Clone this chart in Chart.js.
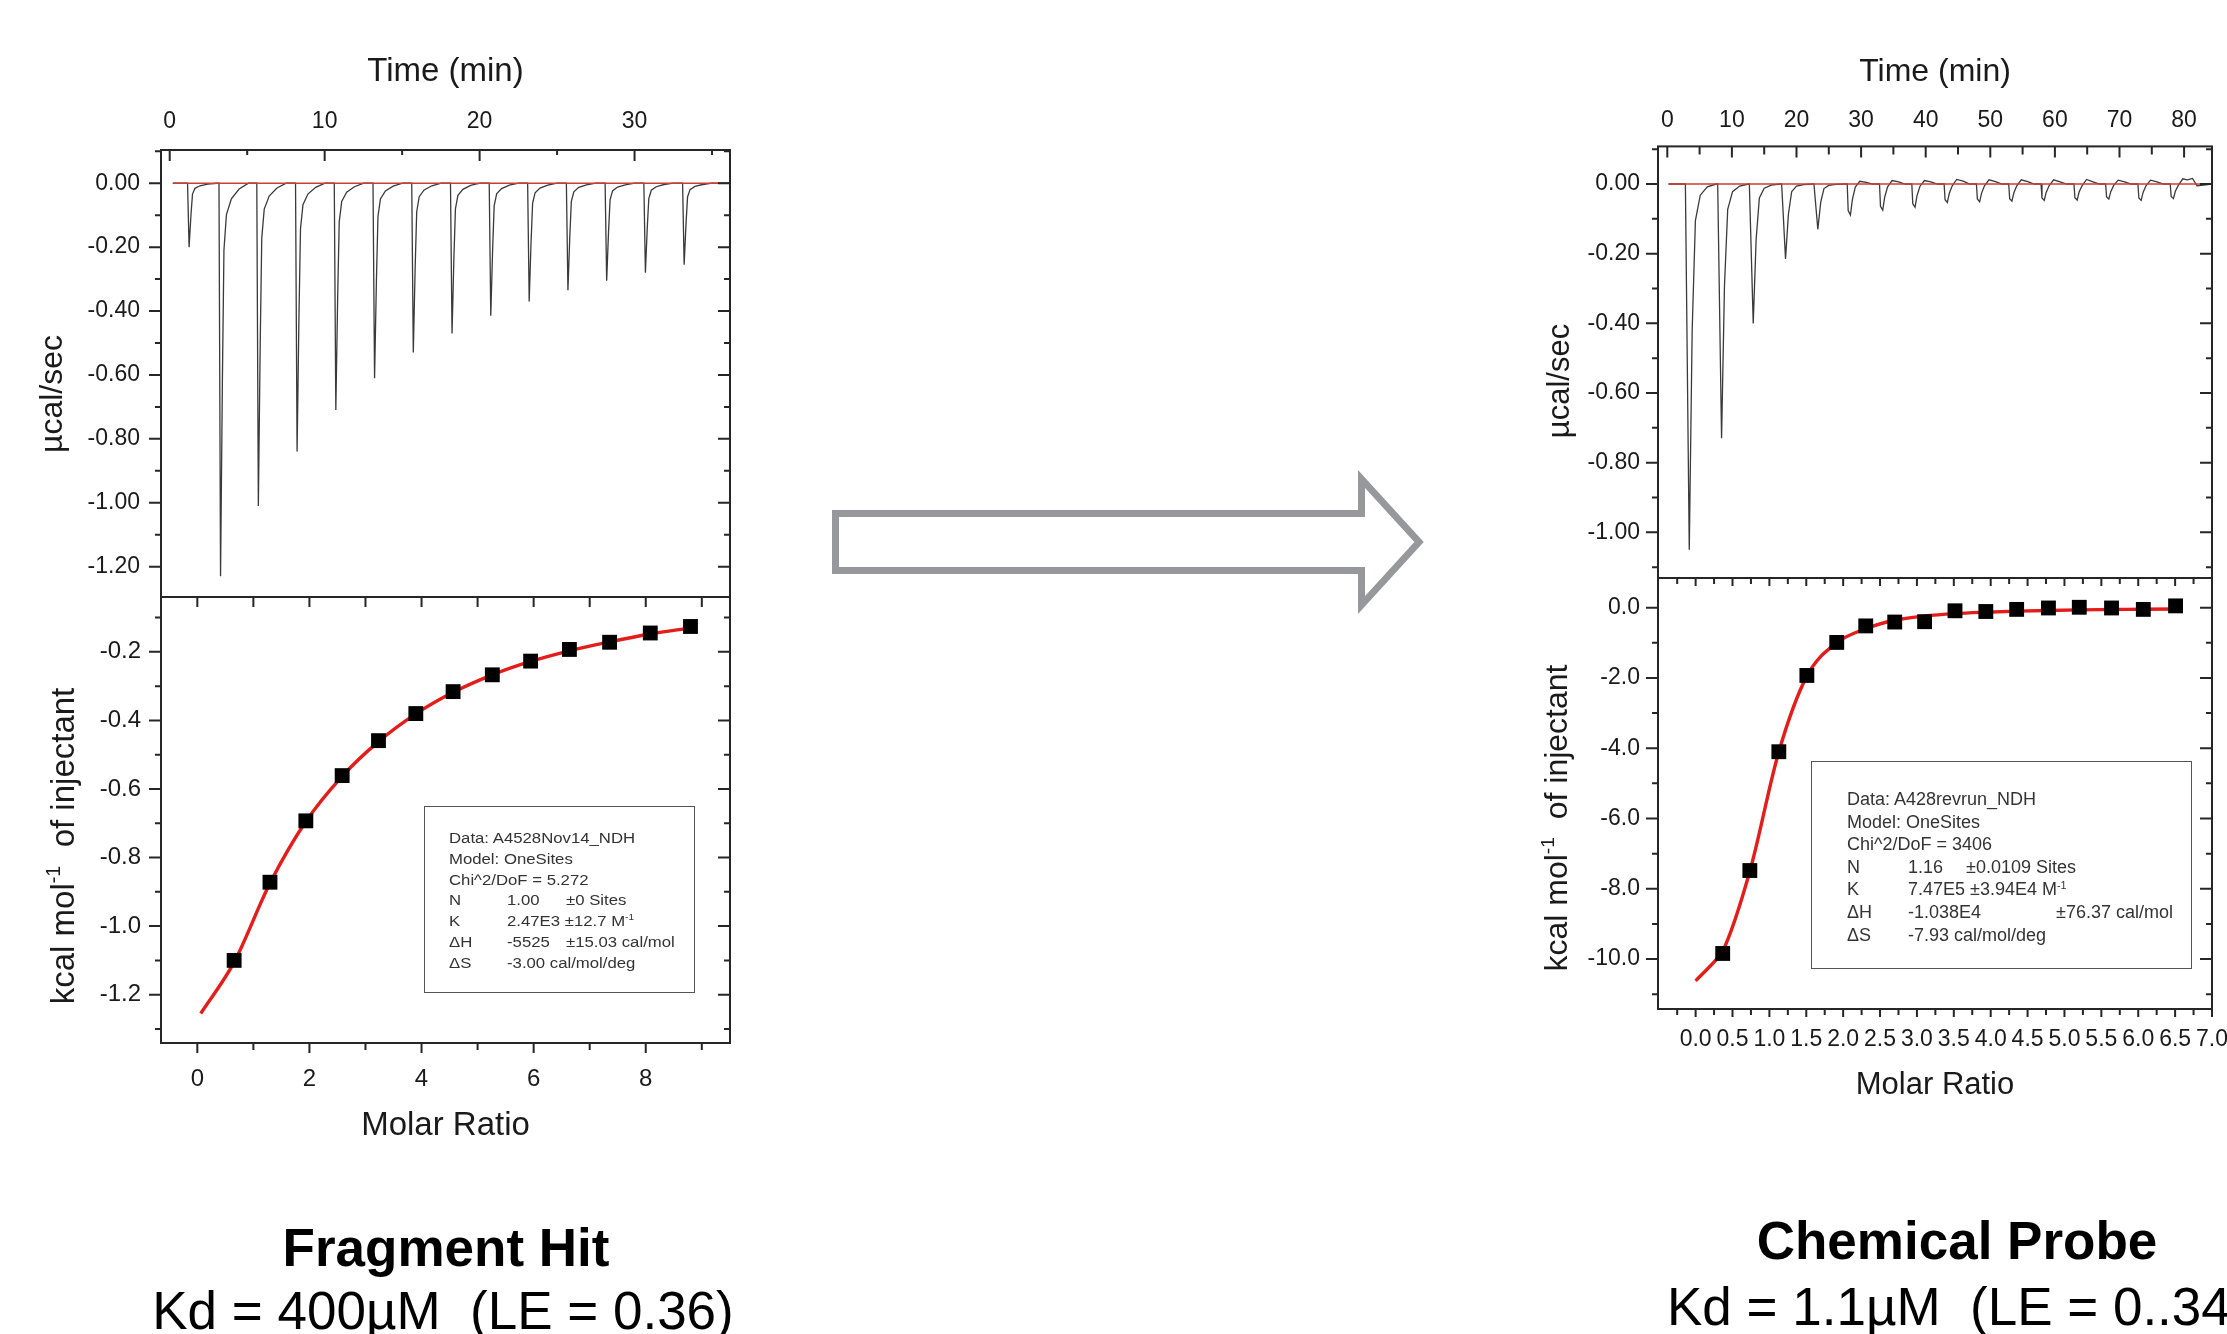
<!DOCTYPE html>
<html>
<head>
<meta charset="utf-8">
<script src="https://cdn.jsdelivr.net/npm/chart.js@4.4.1/dist/chart.umd.min.js"></script>
<style>
  html, body { margin:0; padding:0; background:#fff; }
  body { width:2227px; height:1334px; overflow:hidden; position:relative; font-family:'Liberation Sans', Arial, sans-serif; }
  canvas { position:absolute; left:0; top:0; }
  .ytitle { position:absolute; transform:translate(-50%,-50%) rotate(-90deg); white-space:nowrap; line-height:1; color:#1a1a1a; }
  .ytitle sup { font-size:0.6em; vertical-align:0.7em; line-height:0; }
  .box { position:absolute; border:1.5px solid #555; box-sizing:border-box; }
  .lg { position:absolute; white-space:pre; color:#333; }
  .lgL { font-size:15.5px; line-height:18px; transform:scaleX(1.08); transform-origin:0 50%; }
  .lgR { font-size:18px; line-height:20px; }
  .lg sup { font-size:0.6em; vertical-align:0.6em; line-height:0; }
  .bt { position:absolute; font-size:53px; line-height:53px; white-space:pre; color:#000; }
</style>
</head>
<body>
<canvas id="cLT" width="2300" height="1334"></canvas>
<canvas id="cLB" width="2300" height="1334"></canvas>
<canvas id="cRT" width="2300" height="1334"></canvas>
<canvas id="cRB" width="2300" height="1334"></canvas>

<svg width="2227" height="1334" style="position:absolute;left:0;top:0">
  <polygon points="835.5,513.5 1361.5,513.5 1361.5,479 1419,542 1361.5,605 1361.5,570.5 835.5,570.5"
           fill="#fff" stroke="#97989c" stroke-width="7" stroke-linejoin="miter"/>
</svg>

<div class="ytitle" style="left:51px;top:394px;font-size:32px">µcal/sec</div>
<div class="ytitle" style="left:62px;top:846px;font-size:33px">kcal mol<sup>-1</sup>&nbsp; of injectant</div>
<div class="ytitle" style="left:1558px;top:381px;font-size:31px">µcal/sec</div>
<div class="ytitle" style="left:1556px;top:818px;font-size:32px">kcal mol<sup>-1</sup>&nbsp; of injectant</div>

<div class="box" style="left:424px;top:806px;width:271px;height:187px"></div>
<div class="box" style="left:1811px;top:761px;width:381px;height:208px"></div>
<div id="legends"></div>

<div class="bt" style="left:446px;top:1221px;transform:translateX(-50%);font-weight:bold">Fragment Hit</div>
<div class="bt" style="left:443px;top:1284px;transform:translateX(-50%)">Kd = 400µM  (LE = 0.36)</div>
<div class="bt" style="left:1957px;top:1214px;transform:translateX(-50%);font-weight:bold">Chemical Probe</div>
<div class="bt" style="left:1667px;top:1280px">Kd = 1.1µM  (LE = 0..34)</div>

<script>
// ---------------- DATA ----------------
// Fragment hit thermogram (time in min, power in µcal/sec)
const timeL = [0.2,
 1.15,1.25,1.37,1.47,1.63,1.95,2.45,3.05,
 3.18,3.28,3.40,3.50,3.66,3.98,4.48,5.08,
 5.62,5.72,5.84,5.94,6.10,6.42,6.92,7.52,
 8.12,8.22,8.34,8.44,8.60,8.92,9.42,10.02,
 10.62,10.72,10.84,10.94,11.10,11.42,11.92,12.52,
 13.12,13.22,13.34,13.44,13.60,13.92,14.42,15.02,
 15.62,15.72,15.84,15.94,16.10,16.42,16.92,17.52,
 18.12,18.22,18.34,18.44,18.60,18.92,19.42,20.02,
 20.62,20.72,20.84,20.94,21.10,21.42,21.92,22.52,
 23.10,23.20,23.32,23.42,23.58,23.90,24.40,25.00,
 25.60,25.70,25.82,25.92,26.08,26.40,26.90,27.50,
 28.10,28.20,28.32,28.42,28.58,28.90,29.40,30.00,
 30.60,30.70,30.82,30.92,31.08,31.40,31.90,32.50,
 33.10,33.20,33.32,33.42,33.58,33.90,34.40,35.00,
 36.1];
const powerL = [0,
 0,-0.20,-0.10,-0.034,-0.016,-0.008,-0.003,0,
 0,-1.23,-0.615,-0.209,-0.098,-0.049,-0.018,0,
 0,-1.01,-0.505,-0.172,-0.081,-0.040,-0.015,0,
 0,-0.84,-0.42,-0.143,-0.067,-0.034,-0.013,0,
 0,-0.71,-0.355,-0.121,-0.057,-0.028,-0.011,0,
 0,-0.61,-0.305,-0.104,-0.049,-0.024,-0.009,0,
 0,-0.53,-0.265,-0.090,-0.042,-0.021,-0.008,0,
 0,-0.47,-0.235,-0.080,-0.038,-0.019,-0.007,0,
 0,-0.415,-0.208,-0.071,-0.033,-0.017,-0.006,0,
 0,-0.37,-0.185,-0.063,-0.030,-0.015,-0.006,0,
 0,-0.335,-0.168,-0.057,-0.027,-0.013,-0.005,0,
 0,-0.305,-0.153,-0.052,-0.024,-0.012,-0.005,0,
 0,-0.28,-0.14,-0.048,-0.022,-0.011,-0.004,0,
 0,-0.255,-0.128,-0.043,-0.020,-0.010,-0.004,0,
 0];
const baseTimeL = [0.2, 36.1];
const baseL = [0, 0];

// Fragment hit isotherm (molar ratio, kcal/mol of injectant)
const ratioL = [0.657,1.296,1.936,2.584,3.232,3.898,4.563,5.263,5.946,6.638,7.355,8.081,8.798];
const heatL  = [-1.100,-0.872,-0.693,-0.561,-0.459,-0.380,-0.316,-0.267,-0.227,-0.193,-0.172,-0.145,-0.126];
const fitRatioL = [0.06,0.657,1.296,1.936,2.584,3.232,3.898,4.563,5.263,5.946,6.638,7.355,8.081,8.798];
const fitHeatL  = [-1.255,-1.105,-0.875,-0.695,-0.563,-0.462,-0.381,-0.318,-0.267,-0.228,-0.197,-0.171,-0.148,-0.130];

// Chemical probe thermogram
const timeR = [0.2,
 2.8,3.4,3.85,4.35,5.1,6.2,7.6,
 7.8,8.4,8.85,9.35,10.1,11.2,12.6,
 12.7,13.3,13.75,14.25,15.0,16.1,17.5,
 17.7,18.3,18.75,19.25,20.0,21.1,22.5,
 22.7,23.3,23.75,24.25,25.0,26.1,27.5,
 27.85,28.0,28.35,28.65,29.1,29.8,30.8,31.8,
 32.85,33.0,33.35,33.65,34.1,34.8,35.8,36.8,
 37.85,38.0,38.35,38.65,39.1,39.8,40.8,41.8,
 42.85,43.0,43.35,43.65,44.1,44.8,45.8,46.8,
 47.85,48.0,48.35,48.65,49.1,49.8,50.8,51.8,
 52.85,53.0,53.35,53.65,54.1,54.8,55.8,56.8,
 57.85,58.0,58.35,58.65,59.1,59.8,60.8,61.8,
 62.95,63.1,63.45,63.75,64.2,64.9,65.9,66.9,
 67.85,68.0,68.35,68.65,69.1,69.8,70.8,71.8,
 72.85,73.0,73.35,73.65,74.1,74.8,75.8,76.8,
 77.85,78.0,78.35,78.65,79.1,79.8,80.5,81.3,82.0,83.0,84.3];
const powerR = [0,
 0,-1.05,-0.42,-0.105,-0.032,-0.008,0,
 0,-0.73,-0.292,-0.073,-0.022,-0.006,0,
 0,-0.40,-0.16,-0.04,-0.012,-0.003,0,
 0,-0.215,-0.086,-0.022,-0.006,-0.002,0,
 0,-0.13,-0.052,-0.013,-0.004,-0.001,0,
 0,-0.076,-0.089,-0.045,-0.009,0.008,0.005,0,
 0,-0.064,-0.075,-0.038,-0.008,0.010,0.006,0,
 0,-0.057,-0.067,-0.034,-0.007,0.010,0.006,0,
 0,-0.045,-0.053,-0.027,-0.005,0.013,0.008,0,
 0,-0.043,-0.051,-0.026,-0.005,0.012,0.007,0,
 0,-0.042,-0.049,-0.025,-0.005,0.012,0.007,0,
 0,-0.040,-0.047,-0.024,-0.005,0.012,0.006,0,
 0,-0.039,-0.046,-0.023,-0.005,0.013,0.006,0,
 0,-0.037,-0.043,-0.022,-0.004,0.011,0.006,0,
 0,-0.040,-0.047,-0.024,-0.005,0.011,0.006,0,
 0,-0.036,-0.042,-0.021,-0.004,0.015,0.012,0.016,-0.005,-0.003,0];
const baseTimeR = [0.2, 84.3];
const baseR = [0, 0];

// Chemical probe isotherm
const ratioR = [0.367,0.735,1.128,1.508,1.913,2.306,2.699,3.104,3.516,3.934,4.352,4.783,5.201,5.638,6.069,6.506];
const heatR  = [-9.84,-7.48,-4.10,-1.93,-0.99,-0.52,-0.41,-0.40,-0.09,-0.11,-0.05,-0.01,0.01,-0.01,-0.05,0.05];
const fitRatioR = [0.0,0.285,0.367,0.735,1.128,1.508,1.913,2.306,2.699,3.104,3.516,3.934,4.352,4.783,5.201,5.638,6.069,6.506];
const fitHeatR  = [-10.62,-10.0,-9.78,-7.5,-4.1,-1.95,-1.0,-0.6,-0.36,-0.24,-0.17,-0.13,-0.10,-0.08,-0.065,-0.055,-0.045,-0.04];

// Tick values and labels
const ltTimeTicks  = [0,5,10,15,20,25,30,35];
const ltTimeLabels = ['0','','10','','20','','30',''];
const ltPowerTicks  = [0.1,0,-0.1,-0.2,-0.3,-0.4,-0.5,-0.6,-0.7,-0.8,-0.9,-1.0,-1.1,-1.2];
const ltPowerLabels = ['','0.00','','-0.20','','-0.40','','-0.60','','-0.80','','-1.00','','-1.20'];
const lbRatioTicks  = [0,1,2,3,4,5,6,7,8,9];
const lbRatioLabels = ['0','','2','','4','','6','','8',''];
const lbHeatTicks  = [-0.1,-0.2,-0.3,-0.4,-0.5,-0.6,-0.7,-0.8,-0.9,-1.0,-1.1,-1.2,-1.3];
const lbHeatLabels = ['','-0.2','','-0.4','','-0.6','','-0.8','','-1.0','','-1.2',''];
const rtTimeTicks  = [0,5,10,15,20,25,30,35,40,45,50,55,60,65,70,75,80];
const rtTimeLabels = ['0','','10','','20','','30','','40','','50','','60','','70','','80'];
const rtPowerTicks  = [0.1,0,-0.1,-0.2,-0.3,-0.4,-0.5,-0.6,-0.7,-0.8,-0.9,-1.0,-1.1];
const rtPowerLabels = ['','0.00','','-0.20','','-0.40','','-0.60','','-0.80','','-1.00',''];
const rbRatioTicks  = [-0.25,0,0.25,0.5,0.75,1,1.25,1.5,1.75,2,2.25,2.5,2.75,3,3.25,3.5,3.75,4,4.25,4.5,4.75,5,5.25,5.5,5.75,6,6.25,6.5,6.75,7];
const rbRatioLabels = ['','0.0','','0.5','','1.0','','1.5','','2.0','','2.5','','3.0','','3.5','','4.0','','4.5','','5.0','','5.5','','6.0','','6.5','','7.0'];
const rbHeatTicks  = [0,-1,-2,-3,-4,-5,-6,-7,-8,-9,-10,-11];
const rbHeatLabels = ['0.0','','-2.0','','-4.0','','-6.0','','-8.0','','-10.0',''];

// Fit legends (text)
const legendL = [
  [['Data: A4528Nov14_NDH', 0]],
  [['Model: OneSites', 0]],
  [['Chi^2/DoF = 5.272', 0]],
  [['N', 0], ['1.00', 1], ['±0 Sites', 2]],
  [['K', 0], ['2.47E3 ±12.7 M<sup>-1</sup>', 1]],
  [['ΔH', 0], ['-5525', 1], ['±15.03 cal/mol', 2]],
  [['ΔS', 0], ['-3.00 cal/mol/deg', 1]]
];
const legendR = [
  [['Data: A428revrun_NDH', 0]],
  [['Model: OneSites', 0]],
  [['Chi^2/DoF = 3406', 0]],
  [['N', 0], ['1.16', 1], ['±0.0109 Sites', 2]],
  [['K', 0], ['7.47E5 ±3.94E4 M<sup>-1</sup>', 1]],
  [['ΔH', 0], ['-1.038E4', 1], ['±76.37 cal/mol', 3]],
  [['ΔS', 0], ['-7.93 cal/mol/deg', 1]]
];

// ---------------- LEGEND TEXT LAYOUT ----------------
(function () {
  const host = document.getElementById('legends');
  function place(rows, cls, colsX, y0, dy, lh) {
    rows.forEach((row, r) => {
      row.forEach(([txt, c]) => {
        const s = document.createElement('span');
        s.className = 'lg ' + cls;
        s.style.left = colsX[c] + 'px';
        s.style.top = (y0 + r * dy - lh / 2) + 'px';
        s.innerHTML = txt;
        host.appendChild(s);
      });
    });
  }
  place(legendL, 'lgL', [449, 507, 566, 566], 838, 20.8, 18);
  place(legendR, 'lgR', [1847, 1908, 1966, 2056], 799, 22.6, 20);
})();

// ---------------- CHARTS ----------------
const FONT = "'Liberation Sans', Arial, sans-serif";
const INK = '#1a1a1a';
Chart.defaults.font.family = FONT;
Chart.defaults.color = INK;

const zip = (xs, ys) => xs.map((x, i) => ({x: x, y: ys[i]}));

const framePlugin = {
  id: 'frame',
  afterDatasetsDraw(chart, args, opts) {
    const {ctx, chartArea: a, scales} = chart;
    ctx.save();
    ctx.strokeStyle = '#262626';
    ctx.lineWidth = 2;
    ctx.beginPath();
    for (const s of opts.sides) {
      const sc = scales[s.scale];
      for (const t of sc.ticks) {
        const p = sc.getPixelForValue(t.value);
        const len = (t.label !== '' && t.label !== undefined) ? s.major : s.minor;
        const sign = s.dir === 'out' ? 1 : -1;
        if (s.edge === 'top') { ctx.moveTo(p, a.top); ctx.lineTo(p, a.top - sign * len); }
        else if (s.edge === 'bottom') { ctx.moveTo(p, a.bottom); ctx.lineTo(p, a.bottom + sign * len); }
        else if (s.edge === 'left') { ctx.moveTo(a.left, p); ctx.lineTo(a.left - sign * len, p); }
        else { ctx.moveTo(a.right, p); ctx.lineTo(a.right + sign * len, p); }
      }
    }
    ctx.stroke();
    ctx.strokeRect(a.left, a.top, a.right - a.left, a.bottom - a.top);
    ctx.restore();
  }
};

function axis(a) {
  return {
    type: 'linear',
    position: a.position,
    min: a.min, max: a.max,
    bounds: 'data',
    grid: { display: false, drawTicks: false, tickLength: 0 },
    border: { display: false },
    afterBuildTicks: (s) => { s.ticks = a.ticks.map(v => ({value: v})); },
    afterFit: (s) => { if (s.isHorizontal()) s.height = a.size; else s.width = a.size; },
    ticks: {
      autoSkip: false, maxRotation: 0, minRotation: 0,
      padding: a.pad, color: INK,
      font: { family: FONT, size: a.fontSize, lineHeight: 1 },
      callback: (v, i) => a.labels[i]
    },
    title: a.title
      ? { display: true, text: a.title, padding: 0, color: INK, font: { family: FONT, size: a.titleSize, lineHeight: 1 } }
      : { display: false }
  };
}

function makeChart(id, cfg) {
  return new Chart(document.getElementById(id), {
    type: 'scatter',
    data: { datasets: cfg.datasets },
    options: {
      responsive: false,
      animation: false,
      devicePixelRatio: 1,
      layout: { padding: cfg.padding },
      plugins: { legend: { display: false }, tooltip: { enabled: false }, frame: { sides: cfg.sides } },
      scales: { x: axis(cfg.x), y: axis(cfg.y) }
    },
    plugins: [framePlugin]
  });
}

function traceSets(t, p, bt, b) {
  return [
    { data: zip(bt, b), showLine: true, borderColor: '#d23a36', borderWidth: 1.3, pointRadius: 0, order: 0 },
    { data: zip(t, p), showLine: true, borderColor: '#3a3a3a', borderWidth: 1.3, pointRadius: 0, tension: 0, order: 1 }
  ];
}
function isoSets(rx, hy, fx, fy) {
  return [
    { data: zip(rx, hy), showLine: false, pointStyle: 'rect', pointRadius: 10.5, backgroundColor: '#000', borderColor: '#000', borderWidth: 0, order: 0 },
    { data: zip(fx, fy), showLine: true, borderColor: '#e31e1a', borderWidth: 3.4, pointRadius: 0, cubicInterpolationMode: 'monotone', order: 1 }
  ];
}

// Left top: fragment thermogram
makeChart('cLT', {
  padding: { left: 61, top: 55, right: 1570, bottom: 737 },
  datasets: traceSets(timeL, powerL, baseTimeL, baseL),
  x: { position: 'top', min: -0.5625, max: 36.16, ticks: ltTimeTicks, labels: ltTimeLabels, size: 95, pad: 16.5, fontSize: 23, title: 'Time (min)', titleSize: 33 },
  y: { position: 'left', min: -1.295, max: 0.104, ticks: ltPowerTicks, labels: ltPowerLabels, size: 100, pad: 21, fontSize: 23 },
  sides: [
    { scale: 'x', edge: 'top', dir: 'in', major: 11, minor: 5 },
    { scale: 'y', edge: 'left', dir: 'out', major: 12, minor: 6 },
    { scale: 'y', edge: 'right', dir: 'in', major: 12, minor: 6 }
  ]
});

// Left bottom: fragment isotherm
makeChart('cLB', {
  padding: { left: 61, top: 597, right: 1570, bottom: 191.5 },
  datasets: isoSets(ratioL, heatL, fitRatioL, fitHeatL),
  x: { position: 'bottom', min: -0.648, max: 9.503, ticks: lbRatioTicks, labels: lbRatioLabels, size: 99.5, pad: 24, fontSize: 24, title: 'Molar Ratio', titleSize: 33 },
  y: { position: 'left', min: -1.341, max: -0.040, ticks: lbHeatTicks, labels: lbHeatLabels, size: 100, pad: 20, fontSize: 24 },
  sides: [
    { scale: 'x', edge: 'top', dir: 'in', major: 10, minor: 10 },
    { scale: 'x', edge: 'bottom', dir: 'out', major: 10, minor: 7 },
    { scale: 'y', edge: 'left', dir: 'out', major: 12, minor: 6 },
    { scale: 'y', edge: 'right', dir: 'in', major: 12, minor: 6 }
  ]
});

// Right top: probe thermogram
makeChart('cRT', {
  padding: { left: 1558, top: 56, right: 88, bottom: 756 },
  datasets: traceSets(timeR, powerR, baseTimeR, baseR),
  x: { position: 'top', min: -1.44, max: 84.32, ticks: rtTimeTicks, labels: rtTimeLabels, size: 90.4, pad: 14.2, fontSize: 23, title: 'Time (min)', titleSize: 32 },
  y: { position: 'left', min: -1.131, max: 0.108, ticks: rtPowerTicks, labels: rtPowerLabels, size: 100, pad: 18, fontSize: 23 },
  sides: [
    { scale: 'x', edge: 'top', dir: 'in', major: 11, minor: 8 },
    { scale: 'y', edge: 'left', dir: 'out', major: 12, minor: 6 },
    { scale: 'y', edge: 'right', dir: 'in', major: 12, minor: 6 }
  ]
});

// Right bottom: probe isotherm
makeChart('cRB', {
  padding: { left: 1558, top: 578, right: 88, bottom: 233.5 },
  datasets: isoSets(ratioR, heatR, fitRatioR, fitHeatR),
  x: { position: 'bottom', min: -0.51, max: 7.0, ticks: rbRatioTicks, labels: rbRatioLabels, size: 91.5, pad: 19.5, fontSize: 23, title: 'Molar Ratio', titleSize: 31 },
  y: { position: 'left', min: -11.42, max: 0.843, ticks: rbHeatTicks, labels: rbHeatLabels, size: 100, pad: 18, fontSize: 23 },
  sides: [
    { scale: 'x', edge: 'top', dir: 'in', major: 8, minor: 6 },
    { scale: 'x', edge: 'bottom', dir: 'out', major: 8, minor: 6 },
    { scale: 'y', edge: 'left', dir: 'out', major: 12, minor: 6 },
    { scale: 'y', edge: 'right', dir: 'in', major: 12, minor: 6 }
  ]
});
</script>
</body>
</html>
